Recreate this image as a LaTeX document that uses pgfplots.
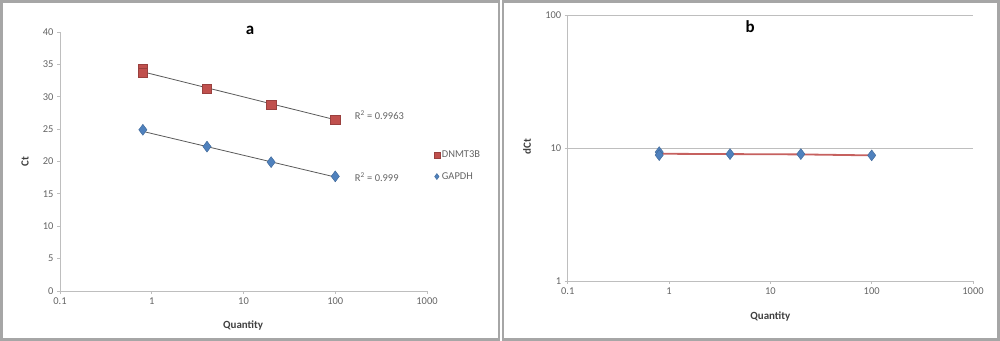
\documentclass[border=0pt]{standalone}
\usepackage{pgfplots}
\pgfplotsset{compat=1.18}
\usepackage{fontspec}
\setmainfont{Carlito}
\definecolor{xred}{RGB}{192,80,77}
\definecolor{xblue}{RGB}{79,129,189}
\definecolor{txt}{RGB}{100,100,100}
\definecolor{axc}{RGB}{190,190,190}
\definecolor{trend}{RGB}{90,90,90}
\begin{document}
\begin{tikzpicture}
\path (0bp,0bp) rectangle (1000bp,341bp);
\draw[line width=2.5bp,color=gray!70] (1.5bp,1.5bp) rectangle (499bp,339.5bp);
\draw[line width=2.5bp,color=gray!70] (503bp,1.5bp) rectangle (998.5bp,339.5bp);
\pgfplotsset{
  every axis/.append style={
    scale only axis,
    /pgf/number format/assume math mode=true,
    axis line style={axc, line width=0.8bp},
    tick style={axc, line width=0.8bp},
    tick align=outside,
    major tick length=3bp,
    ticklabel style={font=\fontsize{10.5}{12}\selectfont, text=txt},
    label style={font=\bfseries\fontsize{11}{13}\selectfont, text=black!75},
    xmode=log, xmin=0.1, xmax=1000,
    xtick={0.1,1,10,100,1000},
    xticklabels={0.1,1,10,100,1000},
    xminorticks=false,
    clip=false,
  }
}
% ---------------- panel a
\begin{axis}[
  at={(60bp,50bp)}, anchor=south west,
  width=367bp, height=259bp,
  axis x line*=bottom, axis y line*=left,
  ymin=0, ymax=40, ytick={0,5,...,40},
  yticklabels={0,5,10,15,20,25,30,35,40},
  xlabel={Quantity}, ylabel={Ct},
  xlabel style={at={(axis description cs:0.499,-0.135)}, anchor=center},
  ylabel style={at={(axis description cs:-0.095,0.5)}, anchor=center},
  title={\textbf{a}},
  title style={at={(axis description cs:0.518,0.985)}, anchor=center, font=\bfseries\fontsize{17}{18}\selectfont},
  legend style={at={(axis description cs:1.01,0.483)}, anchor=west, draw=none, fill=none,
    font=\fontsize{10.5}{12}\selectfont, text=txt, row sep=9bp, cells={anchor=west}},
  legend image code/.code={\draw[mark size=3bp] plot coordinates {(4bp,0bp)};},
]
\addplot[trend, line width=0.8bp, forget plot] coordinates {(0.8,33.85) (100,26.45)};
\addplot[trend, line width=0.8bp, forget plot] coordinates {(0.8,24.65) (100,17.6)};
\addplot[only marks, mark=square*, mark size=4.6bp, color=xred, mark options={fill=xred, draw=xred!80!black}]
  coordinates {(0.8,34.3) (0.8,33.7) (4,31.2) (20,28.8) (100,26.4)};
\addlegendentry{DNMT3B}
\addplot[only marks, mark=diamond*, mark size=5.5bp, color=xblue, mark options={fill=xblue, draw=xblue!80!black}]
  coordinates {(0.8,24.9) (4,22.3) (20,19.9) (100,17.7)};
\addlegendentry{GAPDH}
\node[anchor=west, font=\fontsize{10.5}{12}\selectfont, text=txt] at (axis cs:150,27.2) {R\textsuperscript{2} = 0.9963};
\node[anchor=west, font=\fontsize{10.5}{12}\selectfont, text=txt] at (axis cs:150,17.6) {R\textsuperscript{2} = 0.999};
\end{axis}
% ---------------- panel b
\begin{axis}[
  at={(567.7bp,60bp)}, anchor=south west,
  width=405.3bp, height=266bp,
  axis x line*=bottom, axis y line*=left,
  ymode=log, ymin=1, ymax=100,
  ytick={1,10,100}, yticklabels={1,10,100}, yminorticks=false,
  ymajorgrids, grid style={axc, line width=0.8bp},
  xlabel={Quantity}, ylabel={dCt},
  xlabel style={at={(axis description cs:0.5,-0.132)}, anchor=center},
  ylabel style={at={(axis description cs:-0.10,0.504)}, anchor=center},
  title={\textbf{b}},
  title style={at={(axis description cs:0.45,0.932)}, anchor=center, font=\bfseries\fontsize{17}{18}\selectfont},
]
\addplot[xred!90, line width=1.8bp] coordinates {(0.8,9.05) (4,9.0) (20,8.95) (100,8.8)};
\addplot[only marks, mark=diamond*, mark size=5.5bp, color=xblue, mark options={fill=xblue, draw=xblue!80!black}]
  coordinates {(0.8,9.3) (0.8,8.85) (4,9.0) (20,9.0) (100,8.8)};
\end{axis}
\end{tikzpicture}
\end{document}
